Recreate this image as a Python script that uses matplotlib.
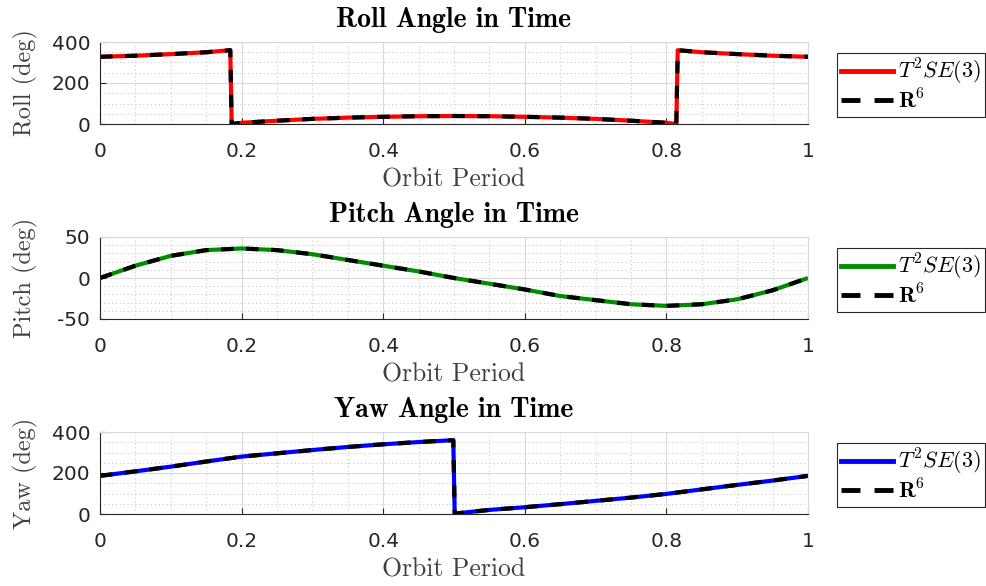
import numpy as np
import matplotlib
matplotlib.use("Agg")
import matplotlib.pyplot as plt
from matplotlib.lines import Line2D
from matplotlib.ticker import MultipleLocator

# ── Attitude histories over one orbit (deg) ─────────────────────────────────
t_roll = [0.0, 0.05, 0.1, 0.15, 0.184, 0.186, 0.2, 0.25, 0.3, 0.35, 0.4, 0.45,
          0.5, 0.55, 0.6, 0.65, 0.7, 0.75, 0.8, 0.814, 0.816, 0.85, 0.9, 0.95, 1.0]
roll = [328, 333, 341, 350, 360, 0, 6, 16, 25, 31, 35, 38,
        39, 38, 35, 31, 25, 16, 6, 0, 360, 350, 341, 333, 328]

t_pitch = [0.0, 0.05, 0.1, 0.15, 0.2, 0.25, 0.3, 0.35, 0.4, 0.45, 0.5,
           0.55, 0.6, 0.65, 0.7, 0.75, 0.8, 0.85, 0.9, 0.95, 1.0]
pitch = [0, 15, 27, 34, 36, 34, 29, 22, 15, 8, 0,
         -7, -14, -22, -27, -32, -34, -32, -26, -15, 0]

t_yaw = [0.0, 0.05, 0.1, 0.15, 0.2, 0.25, 0.3, 0.35, 0.4, 0.45, 0.499,
         0.501, 0.55, 0.6, 0.65, 0.7, 0.75, 0.8, 0.85, 0.9, 0.95, 1.0]
yaw = [186, 208, 231, 256, 280, 296, 312, 327, 340, 351, 360,
       2, 20, 33, 48, 64, 80, 98, 120, 142, 163, 186]

panels = [
    dict(t=t_roll, y=roll, color="#ff0000", title="Roll Angle in Time",
         ylabel="Roll (deg)", ylim=(0, 400), major=200, minor=50),
    dict(t=t_pitch, y=pitch, color="#008c00", title="Pitch Angle in Time",
         ylabel="Pitch (deg)", ylim=(-50, 50), major=50, minor=10),
    dict(t=t_yaw, y=yaw, color="#0000ff", title="Yaw Angle in Time",
         ylabel="Yaw (deg)", ylim=(0, 400), major=200, minor=50),
]

plt.rcParams["mathtext.fontset"] = "cm"
plt.rcParams["font.family"] = ["DejaVu Sans"]

W, H = 987, 586
fig = plt.figure(figsize=(W / 100, H / 100), dpi=100)

ax_left, ax_w, ax_h = 100, 708, 82
ax_bottoms = [124, 319, 514]   # pixel row of each axes bottom

TICK_C = "#262626"

for p, yb in zip(panels, ax_bottoms):
    ax = fig.add_axes([ax_left / W, 1 - yb / H, ax_w / W, ax_h / H])

    ax.plot(p["t"], p["y"], color=p["color"], lw=3.0, solid_capstyle="butt")
    ax.plot(p["t"], p["y"], color="black", lw=3.0, dashes=(3, 3))

    ax.set_xlim(0, 1)
    ax.set_ylim(*p["ylim"])
    ax.xaxis.set_major_locator(MultipleLocator(0.2))
    ax.xaxis.set_minor_locator(MultipleLocator(0.05))
    ax.yaxis.set_major_locator(MultipleLocator(p["major"]))
    ax.yaxis.set_minor_locator(MultipleLocator(p["minor"]))
    ax.xaxis.set_major_formatter(lambda v, pos: f"{v:g}")
    ax.yaxis.set_major_formatter(lambda v, pos: f"{v:g}".replace("\u2212", "-"))

    ax.grid(which="major", color="#d9d9d9", lw=0.8, ls="-")
    ax.grid(which="minor", color="#bdbdbd", lw=0.7, ls=(0, (1, 3)))
    ax.set_axisbelow(True)

    ax.tick_params(which="major", direction="in", length=4, width=0.8,
                   colors=TICK_C, labelsize=14.5, top=False, right=False)
    ax.tick_params(axis="x", pad=13)
    ax.tick_params(axis="y", pad=7)
    ax.tick_params(which="minor", length=0)
    for side in ("left", "bottom"):
        ax.spines[side].set_color(TICK_C)
        ax.spines[side].set_linewidth(0.8)
    for side in ("top", "right"):
        ax.spines[side].set_color("#d9d9d9")
        ax.spines[side].set_linewidth(0.8)

    ax.set_xlabel("Orbit Period", fontsize=18.5, family="cmr10", color="#404040",
                  va="center")
    ax.xaxis.set_label_coords(0.5, -0.68)
    ax.set_ylabel(p["ylabel"], fontsize=17.5, family="cmr10", color="#404040",
                  va="center")
    ax.yaxis.set_label_coords(-0.106, 0.5)

    ax.text(0.5, 1.27, p["title"], transform=ax.transAxes, family="cmb10",
            ha="center", va="center", fontsize=20, color="black")

    handles = [
        Line2D([0], [0], color=p["color"], lw=3.5),
        Line2D([0], [0], color="black", lw=3.5, dashes=(3.9, 2.9)),
    ]
    leg = ax.legend(handles, [r"$T^2SE(3)$", r"$\mathbf{R}^6$"],
                    loc="upper left", bbox_to_anchor=(1.041, 0.87),
                    fontsize=16, handlelength=2.3, handletextpad=0.25,
                    borderpad=0.2, labelspacing=0.05, borderaxespad=0,
                    fancybox=False, framealpha=1, edgecolor="#262626")
    leg.get_frame().set_linewidth(0.8)

fig.savefig("out.png", dpi=100)
